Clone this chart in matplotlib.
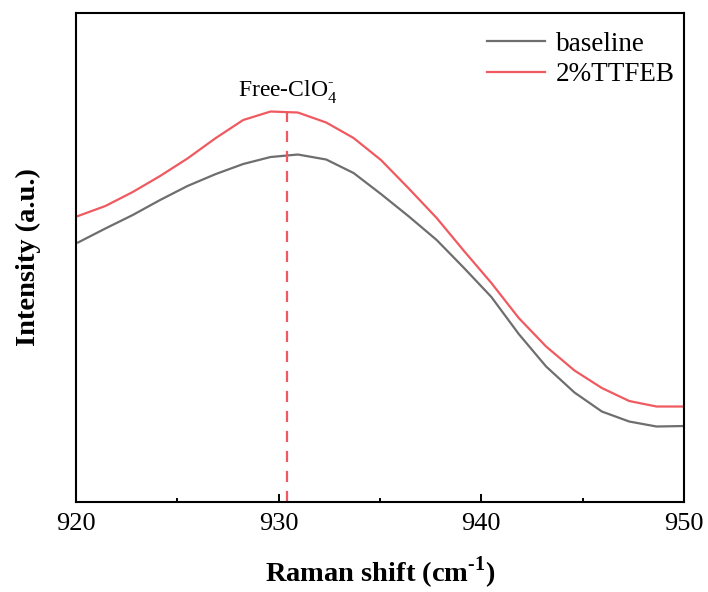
import numpy as np
import matplotlib.pyplot as plt

plt.rcParams['font.family'] = ['Liberation Serif', 'DejaVu Serif']
plt.rcParams['mathtext.fontset'] = 'custom'
plt.rcParams['mathtext.rm'] = 'Liberation Serif'
plt.rcParams['mathtext.bf'] = 'Liberation Serif:bold'

# Raman shift (cm-1) and intensities (a.u.)
shift = [920.1, 921.45, 922.8, 924.15, 925.5, 926.9, 928.25, 929.6, 930.95,
         932.35, 933.7, 935.05, 936.4, 937.8, 939.15, 940.5, 941.85, 943.2,
         944.6, 945.95, 947.3, 948.65, 950.0]
baseline = [259.5, 273.5, 287, 302, 316, 328, 338, 345, 347.5,
            342.5, 329, 308, 286, 262, 234, 205, 168, 135.5,
            109.5, 90.5, 80.5, 75.5, 76]
ttfeb = [286, 296, 310, 326, 343.5, 364, 382, 390.5, 389.5,
         379.5, 364, 342, 314, 284, 251, 219, 184, 155.5,
         131.5, 114, 101, 95.5, 95.5]

peak_pos = 930.43
peak_label = 'Free-ClO$_4^{\\text{-}}$'

fig = plt.figure(figsize=(7.08, 5.92), dpi=100)
ax = fig.add_axes([0.1073, 0.152, 0.8587, 0.826])

ax.plot(shift, baseline, color='#6e6e6e', lw=1.6, label='baseline')
ax.plot(shift, ttfeb, color='#ef5a60', lw=1.6, label='2%TTFEB')

ax.vlines(peak_pos, 0, np.interp(peak_pos, shift, ttfeb), colors='#ef5a60',
          linestyles=(0, (5, 4)), lw=1.6)
ax.text(peak_pos, 397, peak_label, ha='center', va='bottom', fontsize=17)

ax.set_xlim(920, 950)
ax.set_ylim(0, 489)
ax.set_xticks([920, 930, 940, 950])
ax.set_xticks([925, 935, 945], minor=True)
ax.set_yticks([])
ax.tick_params(axis='x', which='major', direction='in', length=6, width=1.4,
               labelsize=19, pad=8)
ax.tick_params(axis='x', which='minor', direction='in', length=3, width=1.4)
for sp in ax.spines.values():
    sp.set_linewidth(1.5)

ax.set_xlabel('Raman shift (cm$^{\\mathbf{\\text{-}1}}$)', fontsize=20.5,
              fontweight='bold', labelpad=14)
ax.set_ylabel('Intensity (a.u.)', fontsize=20.5, fontweight='bold', labelpad=25)

ax.legend(loc='upper right', bbox_to_anchor=(1.0033, 0.9836), borderaxespad=0,
          frameon=False, fontsize=19.5, handlelength=2.15, handletextpad=0.4,
          labelspacing=0.2)

fig.savefig('out.png', dpi=100)
